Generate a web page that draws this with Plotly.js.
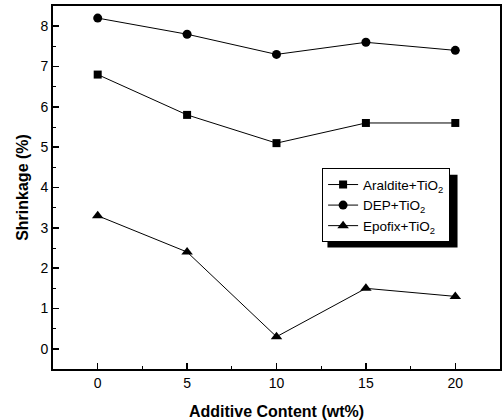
<!DOCTYPE html>
<html>
<head>
<meta charset="utf-8">
<script src="https://cdn.plot.ly/plotly-3.0.1.min.js"></script>
<style>html,body{margin:0;padding:0;background:#fff;}#chart{width:502px;height:420px;}</style>
</head>
<body>
<div id="chart"></div>
<script>
const additive = [0, 5, 10, 15, 20];
const araldite = [6.8, 5.8, 5.1, 5.6, 5.6];
const dep = [8.2, 7.8, 7.3, 7.6, 7.4];
const epofix = [3.3, 2.4, 0.3, 1.5, 1.3];
const seriesNames = ['Araldite+TiO<sub>2</sub>', 'DEP+TiO<sub>2</sub>', 'Epofix+TiO<sub>2</sub>'];

const lineStyle = {color: '#000', width: 1};
const traces = [
  {x: additive, y: araldite, name: seriesNames[0], mode: 'lines+markers', line: lineStyle,
   marker: {symbol: 'square', size: 8, color: '#000'}},
  {x: additive, y: dep, name: seriesNames[1], mode: 'lines+markers', line: lineStyle,
   marker: {symbol: 'circle', size: 9, color: '#000'}},
  {x: additive, y: epofix, name: seriesNames[2], mode: 'lines+markers', line: lineStyle,
   marker: {symbol: 'triangle-up', size: 10, color: '#000'}}
];

const fontFam = 'Liberation Sans, Arial, sans-serif';
const layout = {
  width: 502, height: 420,
  margin: {l: 53, r: 2, t: 6, b: 51},
  paper_bgcolor: '#fff', plot_bgcolor: '#fff',
  font: {family: fontFam, color: '#000', size: 14},
  showlegend: true,
  legend: {x: 0.602, y: 0.553, xanchor: 'left', yanchor: 'top',
           bgcolor: '#fff', bordercolor: '#000', borderwidth: 1,
           font: {family: fontFam, size: 13.5, color: '#000'},
           tracegroupgap: 0, itemwidth: 30},
  xaxis: {range: [-2.5, 22.5], tickvals: [0, 5, 10, 15, 20], ticktext: ['0','5','10','15','20'],
          ticks: 'inside', ticklen: 6, tickwidth: 1.5, tickcolor: '#000',
          minor: {dtick: 2.5, tick0: 0, ticks: 'inside', ticklen: 3, tickwidth: 1, tickcolor: '#000', showgrid: false},
          showline: true, linecolor: '#000', linewidth: 2, mirror: true,
          showgrid: false, zeroline: false,
          tickfont: {family: fontFam, size: 14},
          title: {text: '<b>Additive Content (wt%)</b>', font: {family: fontFam, size: 16}, standoff: 16}},
  yaxis: {range: [-0.5, 8.5], tickvals: [0,1,2,3,4,5,6,7,8],
          ticks: 'inside', ticklen: 6, tickwidth: 1.5, tickcolor: '#000',
          minor: {dtick: 0.5, tick0: 0, ticks: 'inside', ticklen: 3, tickwidth: 1, tickcolor: '#000', showgrid: false},
          showline: true, linecolor: '#000', linewidth: 2, mirror: true,
          showgrid: false, zeroline: false,
          tickfont: {family: fontFam, size: 14},
          title: {text: '<b>Shrinkage (%)</b>', font: {family: fontFam, size: 16}, standoff: 8}},
  shapes: [
    {type: 'rect', xref: 'paper', yref: 'paper', x0: 0.614, x1: 0.905, y0: 0.335, y1: 0.535,
     fillcolor: '#000', line: {width: 0}, layer: 'above'}
  ]
};

Plotly.newPlot('chart', traces, layout, {displayModeBar: false, staticPlot: true});
</script>
</body>
</html>
